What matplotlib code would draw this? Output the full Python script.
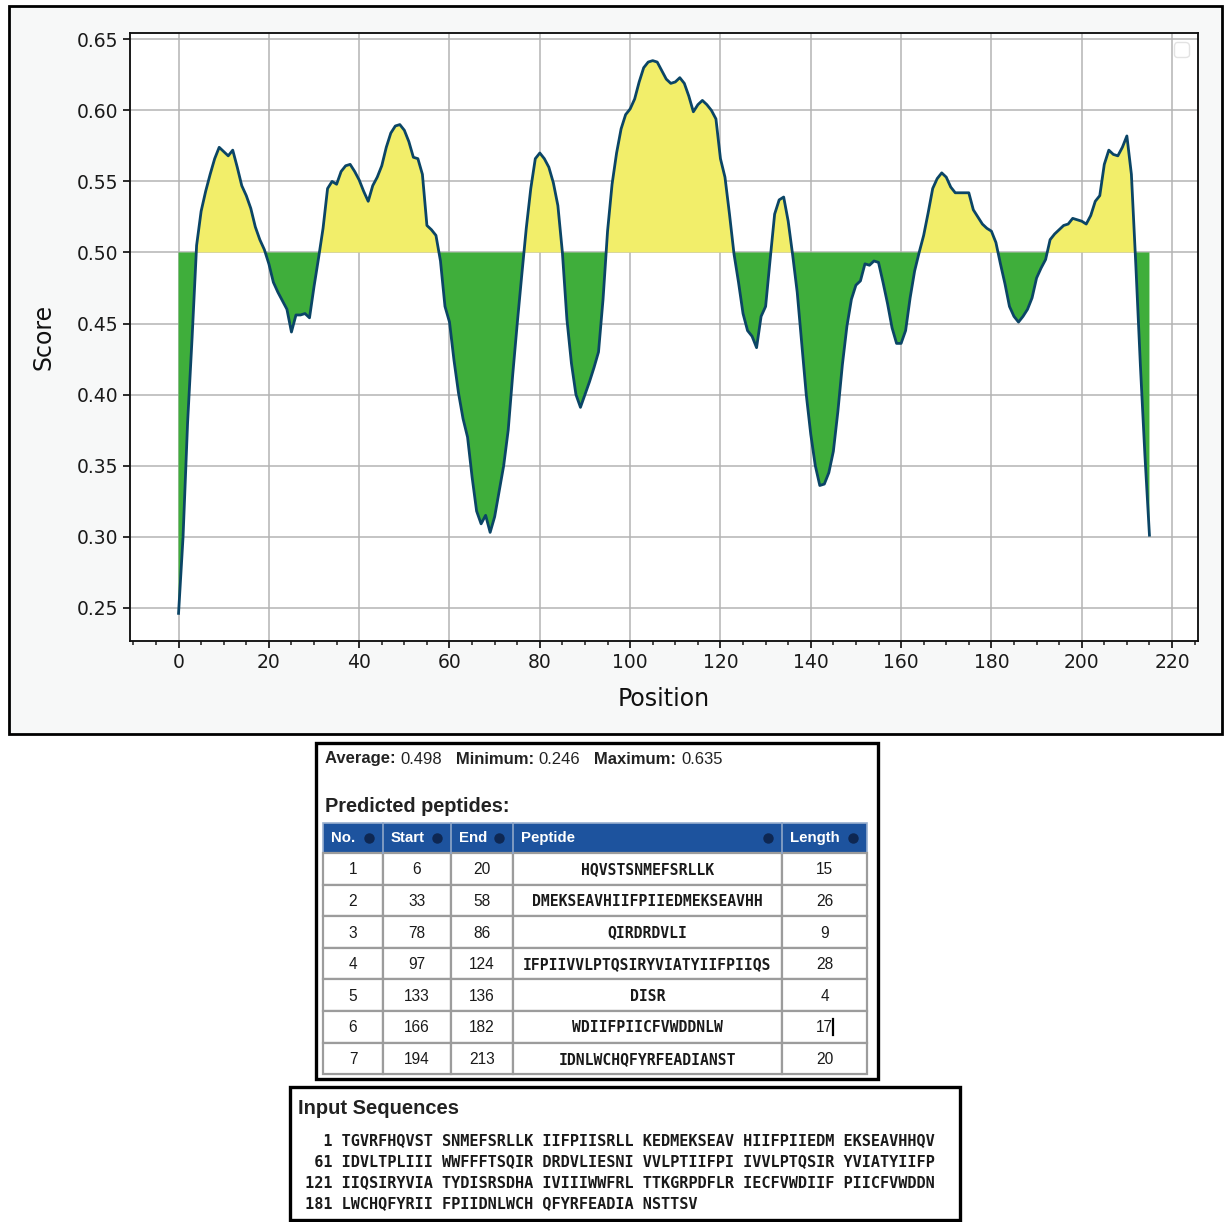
import matplotlib
matplotlib.use("Agg")
import matplotlib.pyplot as plt
from matplotlib.patches import Rectangle
from matplotlib.ticker import MultipleLocator, FormatStrFormatter

# score per residue position
positions = list(range(216))
scores = [
    0.246, 0.300, 0.380, 0.440, 0.505, 0.529, 0.543, 0.555, 0.566, 0.574,
    0.571, 0.568, 0.572, 0.560, 0.547, 0.540, 0.531, 0.518, 0.509, 0.502,
    0.492, 0.479, 0.472, 0.466, 0.460, 0.444, 0.456, 0.456, 0.457, 0.454,
    0.476, 0.496, 0.517, 0.545, 0.550, 0.548, 0.557, 0.561, 0.562, 0.557,
    0.551, 0.543, 0.536, 0.547, 0.553, 0.561, 0.574, 0.584, 0.589, 0.590,
    0.586, 0.578, 0.567, 0.566, 0.555, 0.519, 0.516, 0.512, 0.494, 0.462,
    0.451, 0.424, 0.401, 0.383, 0.370, 0.342, 0.318, 0.309, 0.315, 0.303,
    0.314, 0.332, 0.350, 0.375, 0.414, 0.450, 0.484, 0.517, 0.545, 0.566,
    0.570, 0.566, 0.560, 0.549, 0.533, 0.500, 0.453, 0.422, 0.400, 0.391,
    0.400, 0.409, 0.419, 0.430, 0.467, 0.515, 0.548, 0.570, 0.587, 0.597,
    0.601, 0.608, 0.620, 0.630, 0.634, 0.635, 0.634, 0.628, 0.622, 0.619,
    0.620, 0.623, 0.619, 0.610, 0.599, 0.604, 0.607, 0.604, 0.600, 0.594,
    0.566, 0.553, 0.527, 0.499, 0.479, 0.457, 0.445, 0.441, 0.433, 0.455,
    0.462, 0.495, 0.527, 0.537, 0.539, 0.522, 0.498, 0.472, 0.436, 0.400,
    0.372, 0.350, 0.336, 0.337, 0.345, 0.360, 0.388, 0.421, 0.448, 0.467,
    0.477, 0.480, 0.492, 0.491, 0.494, 0.493, 0.479, 0.464, 0.447, 0.436,
    0.436, 0.445, 0.468, 0.487, 0.500, 0.512, 0.528, 0.545, 0.552, 0.556,
    0.553, 0.546, 0.542, 0.542, 0.542, 0.542, 0.530, 0.525, 0.520, 0.517,
    0.515, 0.507, 0.492, 0.478, 0.462, 0.455, 0.451, 0.455, 0.460, 0.468,
    0.482, 0.489, 0.495, 0.509, 0.513, 0.516, 0.519, 0.520, 0.524, 0.523,
    0.522, 0.520, 0.526, 0.536, 0.540, 0.562, 0.572, 0.569, 0.568, 0.574,
    0.582, 0.555, 0.490, 0.420, 0.357, 0.301,
]
threshold = 0.5

stat_average = 0.498
stat_minimum = 0.246
stat_maximum = 0.635

pep_no = [1, 2, 3, 4, 5, 6, 7]
pep_start = [6, 33, 78, 97, 133, 166, 194]
pep_end = [20, 58, 86, 124, 136, 182, 213]
pep_seq = ["HQVSTSNMEFSRLLK", "DMEKSEAVHIIFPIIEDMEKSEAVHH", "QIRDRDVLI",
           "IFPIIVVLPTQSIRYVIATYIIFPIIQS", "DISR", "WDIIFPIICFVWDDNLW",
           "IDNLWCHQFYRFEADIANST"]
pep_len = [15, 26, 9, 28, 4, 17, 20]
table_header = ["No.", "Start", "End", "Peptide", "Length"]

input_seq = ("TGVRFHQVSTSNMEFSRLLKIIFPIISRLLKEDMEKSEAVHIIFPIIEDMEKSEAVHHQV"
             "IDVLTPLIIIWWFFFTSQIRDRDVLIESNIVVLPTIIFPIIVVLPTQSIRYVIATYIIFP"
             "IIQSIRYVIATYDISRSDHAIVIIIWWFRLTTKGRPDFLRIECFVWDIIFPIICFVWDDN"
             "LWCHQFYRIIFPIIDNLWCHQFYRFEADIANSTTSV")

W, H = 1224, 1222
fig = plt.figure(figsize=(W / 100, H / 100), dpi=100, facecolor="white")

# overlay in pixel coordinates for the frames and the table
ov = fig.add_axes([0, 0, 1, 1], zorder=0)
ov.set_xlim(0, W)
ov.set_ylim(H, 0)
ov.axis("off")

ov.add_patch(Rectangle((9, 6), 1213, 728, facecolor="#f7f8f8",
                       edgecolor="black", lw=2.0))

# ---- main chart
ax = fig.add_axes([130 / W, 1 - 641 / H, 1068 / W, 608 / H], zorder=2)
ax.set_facecolor("white")
yellow = "#f2ee6a"
green = "#3fae3b"
ax.fill_between(positions, scores, threshold,
                where=[s >= threshold for s in scores],
                interpolate=True, color=yellow, lw=0, zorder=2)
ax.fill_between(positions, scores, threshold,
                where=[s <= threshold for s in scores],
                interpolate=True, color=green, lw=0, zorder=2)
ax.plot(positions, scores, color="#0b4566", lw=2.0, zorder=3)

ax.xaxis.set_major_locator(MultipleLocator(20))
ax.xaxis.set_minor_locator(MultipleLocator(5))
ax.yaxis.set_major_locator(MultipleLocator(0.05))
ax.yaxis.set_major_formatter(FormatStrFormatter("%.2f"))
ax.grid(True, which="major", color="#b4b4b4", lw=1.1, zorder=0)
ax.set_axisbelow(True)
ax.tick_params(which="major", length=4.7, width=1.3, labelsize=13.5,
               colors="#1a1a1a", pad=4)
ax.tick_params(which="minor", length=2.7, width=1.1, colors="#1a1a1a")
for sp in ax.spines.values():
    sp.set_linewidth(1.35)
    sp.set_color("#111111")
ax.set_xlabel("Position", fontsize=17, color="#111111", labelpad=11)
ax.set_ylabel("Score", fontsize=17, color="#111111", labelpad=15)
leg = ax.legend(handles=[], loc="upper right", fontsize=13.5)
leg.get_frame().set_edgecolor("#dddddd")

renderer = fig.canvas.get_renderer()


def run_text(x, y, pieces, **kw):
    for s, weight in pieces:
        t = ov.text(x, y, s, weight=weight, va="center", ha="left", **kw)
        x += t.get_window_extent(renderer).width


sans = "Liberation Sans"
mono = "DejaVu Sans Mono"

# ---- peptide table panel
ov.add_patch(Rectangle((316, 743), 562, 336, facecolor="white",
                       edgecolor="black", lw=2.4))
run_text(325, 759, [("Average: ", "bold"), (f"{stat_average:.3f}", "normal"),
                    ("   Minimum: ", "bold"), (f"{stat_minimum:.3f}", "normal"),
                    ("   Maximum: ", "bold"), (f"{stat_maximum:.3f}", "normal")],
         family=sans, fontsize=12, color="#222222")
ov.text(325, 807, "Predicted peptides:", family=sans, fontsize=14.3,
        weight="bold", color="#222222", va="center")

col_edges = [323, 383, 451, 513, 782, 867]
head_top, head_bot = 823, 853
row_h = 31.6
ov.add_patch(Rectangle((col_edges[0], head_top), col_edges[-1] - col_edges[0],
                       head_bot - head_top, facecolor="#1d539e",
                       edgecolor="#9ab0d0", lw=1.2))
for i, name in enumerate(table_header):
    x0, x1 = col_edges[i], col_edges[i + 1]
    if i > 0:
        ov.plot([x0, x0], [head_top, head_bot], color="#8fa6c8", lw=1.2)
    ov.text(x0 + 8, (head_top + head_bot) / 2, name, family=sans,
            fontsize=10.8, weight="bold", color="white", va="center")
    ov.plot(x1 - 14, (head_top + head_bot) / 2, marker="o", ms=6.5,
            color="#0e2752", zorder=5)

for r in range(len(pep_no)):
    y0 = head_bot + r * row_h
    yc = y0 + row_h / 2
    cells = [str(pep_no[r]), str(pep_start[r]), str(pep_end[r]),
             pep_seq[r], str(pep_len[r])]
    for c, val in enumerate(cells):
        x0, x1 = col_edges[c], col_edges[c + 1]
        ov.add_patch(Rectangle((x0, y0), x1 - x0, row_h, facecolor="white",
                               edgecolor="#9c9c9c", lw=1.6))
        fam = mono if c == 3 else sans
        fs = 10.6 if c == 3 else 11.2
        ov.text((x0 + x1) / 2, yc + 1, val, family=fam, fontsize=fs,
                weight="bold" if c == 3 else "normal",
                color="#1a1a1a", ha="center", va="center")
# text cursor left in the length cell of row 6
cur_y = head_bot + 5 * row_h
ov.plot([833, 833], [cur_y + 8, cur_y + 24], color="black", lw=1.6)

# ---- input sequence panel
ov.add_patch(Rectangle((290, 1087), 670, 133, facecolor="white",
                       edgecolor="black", lw=2.4))
ov.text(298, 1108, "Input Sequences", family=sans, fontsize=14.5,
        weight="bold", color="#222222", va="center")
for k in range(0, len(input_seq), 60):
    chunk = input_seq[k:k + 60]
    groups = " ".join(chunk[j:j + 10] for j in range(0, len(chunk), 10))
    ov.text(296, 1141 + (k // 60) * 20.7, f"{k + 1:>4} {groups}",
            family=mono, fontsize=11.0, weight="bold", color="#1a1a1a",
            va="center")

fig.savefig("out.png", dpi=100, facecolor="white")
